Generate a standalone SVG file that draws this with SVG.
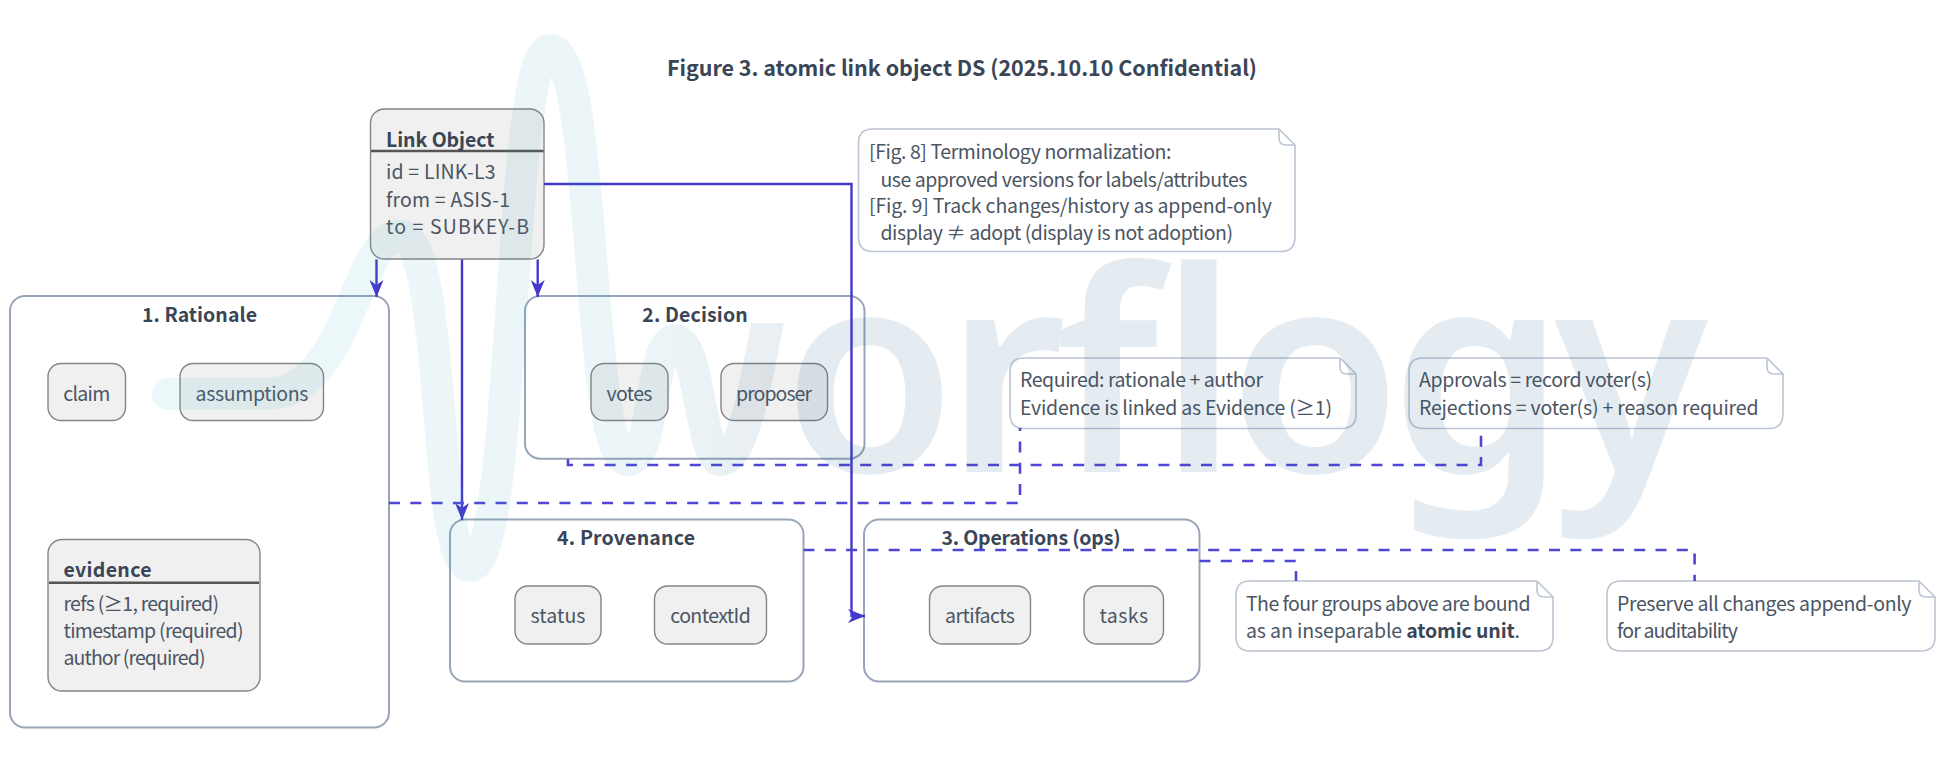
<svg xmlns="http://www.w3.org/2000/svg" width="1948" height="773" viewBox="0 0 1948 773">
<style>
text{font-family:"Noto Sans CJK KR","Noto Sans",sans-serif;font-size:19.5px;fill:#4b5563}
.b{font-weight:700;fill:#3a4556}
.m{text-anchor:middle}
.n{fill:#f0f0f0;stroke:#858585;stroke-width:1.4}
.hl{stroke:#555;stroke-width:2.4}
.c{fill:#fff;stroke:#98a5b9;stroke-width:2}
.note{fill:#fff;stroke:#bcc5d4;stroke-width:1.6;stroke-linejoin:round}
.fold{fill:none;stroke:#bcc5d4;stroke-width:1.6}
.s{fill:none;stroke:#4338ca;stroke-width:2.4}
.d{fill:none;stroke:#4f46d8;stroke-width:2.6;stroke-dasharray:11 10.3}
</style>
<defs>
<marker id="arr" markerUnits="userSpaceOnUse" markerWidth="18" markerHeight="16" refX="17" refY="8" orient="auto">
<path d="M0 1 L17 8 L0 15 L5 8 Z" fill="#4338ca"/>
</marker>
<linearGradient id="wg" gradientUnits="userSpaceOnUse" x1="168" y1="0" x2="780" y2="0">
<stop offset="0" stop-color="#3aabc8"/><stop offset=".72" stop-color="#3aa3c2"/><stop offset="1" stop-color="#1f5580"/>
</linearGradient>
<clipPath id="wc"><path d="M0 0H725V323H1000V773H0Z"/></clipPath>
</defs>
<text id="title" class="b m" x="962" y="76" textLength="590" style="font-size:21.5px">Figure 3. atomic link object DS (2025.10.10 Confidential)</text>
<g id="rationale">
<rect class="c" x="10" y="296" width="379" height="431.500" rx="15"/>
<text class="b m" x="199.500" y="322" textLength="115">1. Rationale</text>
</g>
<g id="decision">
<rect class="c" x="525" y="296" width="339.500" height="162.700" rx="15"/>
<text class="b m" x="695" y="322" textLength="105.500">2. Decision</text>
</g>
<g id="provenance">
<rect class="c" x="450" y="519.500" width="353.500" height="162" rx="15"/>
<text class="b m" x="626" y="545" textLength="138">4. Provenance</text>
</g>
<g id="operations">
<rect class="c" x="864" y="519.500" width="335.500" height="162" rx="15"/>
<text class="b m" x="1031" y="545" textLength="179">3. Operations (ops)</text>
</g>
<g id="link-object">
<rect class="n" x="370.500" y="109" width="173.500" height="150" rx="14"/>
<line class="hl" x1="371" y1="151" x2="543.500" y2="151"/>
<text class="b" x="386" y="147" textLength="108.500">Link Object</text>
<text x="386" y="179" textLength="109.500">id = LINK-L3</text>
<text x="386" y="207" textLength="124">from = ASIS-1</text>
<text x="386" y="234" textLength="143">to = SUBKEY-B</text>
</g>
<g id="claim"><rect class="n" x="48" y="363.500" width="77.500" height="57" rx="13"/><text class="m" x="86.800" y="401" textLength="47">claim</text></g>
<g id="assumptions"><rect class="n" x="180" y="363.500" width="143.500" height="57" rx="13"/><text class="m" x="252" y="401" textLength="113">assumptions</text></g>
<g id="evidence">
<rect class="n" x="48" y="539.500" width="212" height="151.500" rx="14"/>
<line class="hl" x1="49" y1="582.700" x2="259" y2="582.700"/>
<text class="b" x="63.500" y="576.500" textLength="88">evidence</text>
<text x="63.500" y="610.500" textLength="155.500">refs (≥1, required)</text>
<text x="63.500" y="638" textLength="180">timestamp (required)</text>
<text x="63.500" y="664.500" textLength="142">author (required)</text>
</g>
<g id="votes"><rect class="n" x="591" y="363.500" width="77" height="57" rx="13"/><text class="m" x="629.500" y="401" textLength="46">votes</text></g>
<g id="proposer"><rect class="n" x="721" y="363.500" width="106.500" height="57" rx="13"/><text class="m" x="774" y="401" textLength="76">proposer</text></g>
<g id="status"><rect class="n" x="515" y="586" width="86" height="58" rx="13"/><text class="m" x="558" y="623" textLength="55">status</text></g>
<g id="contextId"><rect class="n" x="654.500" y="586" width="112" height="58" rx="13"/><text class="m" x="710.500" y="623" textLength="80.500">contextId</text></g>
<g id="artifacts"><rect class="n" x="929.500" y="586" width="101" height="58" rx="13"/><text class="m" x="980" y="623" textLength="70">artifacts</text></g>
<g id="tasks"><rect class="n" x="1084" y="586" width="79.500" height="58" rx="13"/><text class="m" x="1123.800" y="623" textLength="48.500">tasks</text></g>
<g id="note-terminology">
<path class="note" d="M873 129H1279L1295 145V237Q1295 251.500 1281 251.500H873Q858.500 251.500 858.500 237V143Q858.500 129 873 129Z"/>
<path class="fold" d="M1279 129V138Q1279 145 1286 145H1295"/>
<text x="869" y="159" textLength="302.500">[Fig. 8] Terminology normalization:</text>
<text x="880.500" y="186.500" textLength="367">use approved versions for labels/attributes</text>
<text x="869" y="213" textLength="403">[Fig. 9] Track changes/history as append-only</text>
<text x="880.500" y="240" textLength="352.500">display ≠ adopt (display is not adoption)</text>
</g>
<g id="note-required">
<path class="note" d="M1024 358H1340L1356 374V414Q1356 428.500 1342 428.500H1024Q1010 428.500 1010 414V372Q1010 358 1024 358Z"/>
<path class="fold" d="M1340 358V367Q1340 374 1347 374H1356"/>
<text x="1020" y="387" textLength="243">Required: rationale + author</text>
<text x="1020" y="414.500" textLength="312">Evidence is linked as Evidence (≥1)</text>
</g>
<g id="note-approvals">
<path class="note" d="M1423 358H1767L1783 374V414Q1783 428.500 1769 428.500H1423Q1409 428.500 1409 414V372Q1409 358 1423 358Z"/>
<path class="fold" d="M1767 358V367Q1767 374 1774 374H1783"/>
<text x="1419" y="387" textLength="233">Approvals = record voter(s)</text>
<text x="1419" y="414.500" textLength="339.500">Rejections = voter(s) + reason required</text>
</g>
<g id="note-atomic">
<path class="note" d="M1250 581H1537L1553 597V637Q1553 651 1539 651H1250Q1236 651 1236 637V595Q1236 581 1250 581Z"/>
<path class="fold" d="M1537 581V590Q1537 597 1544 597H1553"/>
<text x="1246" y="610.500" textLength="284.500">The four groups above are bound</text>
<text x="1246" y="638" textLength="274">as an inseparable <tspan class="b">atomic unit</tspan>.</text>
</g>
<g id="note-append">
<path class="note" d="M1621 581H1919L1935 597V637Q1935 651 1921 651H1621Q1607 651 1607 637V595Q1607 581 1621 581Z"/>
<path class="fold" d="M1919 581V590Q1919 597 1926 597H1935"/>
<text x="1617" y="610.500" textLength="294.500">Preserve all changes append-only</text>
<text x="1617" y="638" textLength="121">for auditability</text>
</g>
<g id="connectors">
<path class="s" marker-end="url(#arr)" d="M376.500 259.500V297"/>
<path class="s" marker-end="url(#arr)" d="M537.700 259.500V297"/>
<path class="s" marker-end="url(#arr)" d="M462 259.500V520"/>
<path class="s" marker-end="url(#arr)" d="M544 184H851.500V616H865"/>
<path class="d" d="M389 503H1020V428"/>
<path class="d" d="M568 459V465H1481V428"/>
<path class="d" d="M803.500 550H1694.600V581"/>
<path class="d" d="M1199.500 561H1296V581"/>
</g>
<g id="watermark" opacity=".115">
<path clip-path="url(#wc)" opacity=".82" d="M168 394H266C350 394 355 236 400 236C447 236 432 566 470 566C517 566 507 50 550 50C598 50 585 460 628 460C655 460 650 340 675 340C700 340 700 460 721 460C745 460 760 360 772 300" fill="none" stroke="url(#wg)" stroke-width="32" stroke-linecap="round"/>
<text x="783" y="472" textLength="925" style="font-family:'Noto Sans',sans-serif;font-size:280px;font-weight:600;fill:#1f5a88">orflogy</text>
</g>
</svg>
